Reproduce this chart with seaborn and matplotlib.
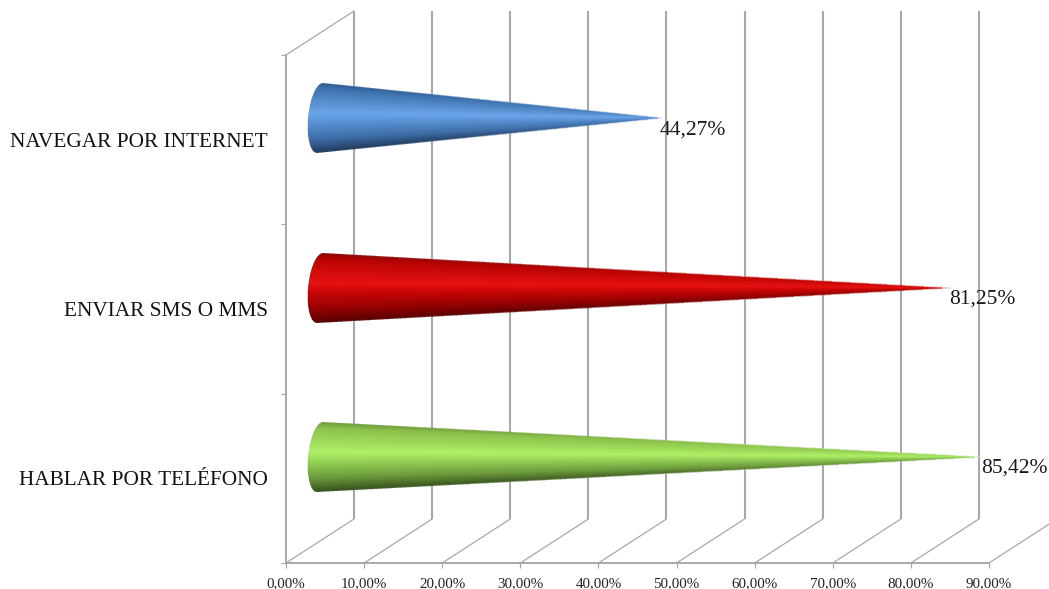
import numpy as np
import pandas as pd
import matplotlib
matplotlib.use("Agg")
import matplotlib.pyplot as plt
from matplotlib.colors import LinearSegmentedColormap
import seaborn as sns

# Survey results
categories = ["NAVEGAR POR INTERNET", "ENVIAR SMS O MMS", "HABLAR POR TELÉFONO"]
values = [44.27, 81.25, 85.42]
x_ticks = [0, 10, 20, 30, 40, 50, 60, 70, 80, 90]

# Shading from the upper edge of each cone to the lower one
shades = {
    "NAVEGAR POR INTERNET": ["#2d5b8f", "#3f74b0", "#6ba6ea", "#5a93d6", "#3f6ea8", "#1f3a5c"],
    "ENVIAR SMS O MMS": ["#8a0606", "#b80303", "#e81212", "#cc0606", "#960202", "#560000"],
    "HABLAR POR TELÉFONO": ["#6f9a3a", "#8cc04c", "#aef066", "#98d658", "#6c9a3c", "#36501c"],
}
shade_stops = [0.0, 0.08, 0.43, 0.55, 0.8, 1.0]

W, H, DPI = 1049, 589, 100
LEFT, RIGHT, TOP, BOTTOM = 286, 989, 55, 563
GRID = "#a8a8a8"
OVERSAMPLE = 4

sns.set_theme(style="white")
plt.rcParams["font.family"] = ["Liberation Serif", "DejaVu Serif"]

fig = plt.figure(figsize=(W / DPI, H / DPI), dpi=DPI, facecolor="white")
rect = [LEFT / W, 1 - BOTTOM / H, (RIGHT - LEFT) / W, (BOTTOM - TOP) / H]
ax = fig.add_axes(rect)

frame = pd.DataFrame({"actividad": categories, "porcentaje": values})
sns.barplot(data=frame, x="porcentaje", y="actividad", hue="actividad",
            palette=[shades[c][2] for c in categories], legend=False,
            width=0.41, ax=ax)
ax.set_xlim(0, 90)
ax.set_ylim(2.5, -0.5)

# A numeric layer over the categorical axes holds the oblique box and the cones
box = fig.add_axes(rect)
box.axis("off")

# Sizes of one pixel in data units, used for the oblique depth of the box
px_x = 90 / (RIGHT - LEFT)
px_y = 3 / (BOTTOM - TOP)
depth_x, depth_y = 68 * px_x, 44 * px_y
cone_x, cone_y = 32 * px_x, 21 * px_y


def base_curve(T):
    """Left rim of the cone for a position T across it (-1 upper, +1 lower)."""
    return (-12 * np.sqrt(np.clip(1 - T ** 2, 0, 1)) + 2 - 3 * T) * px_x + cone_x


def cone_image(value, yc, radius, cmap):
    """Shaded, antialiased RGBA raster of a cone and its data extent."""
    tip = value + cone_x
    x0, x1 = cone_x - 16 * px_x, tip + 2 * px_x
    y0, y1 = yc - radius - 2 * px_y, yc + radius + 2 * px_y
    nx = int(round((x1 - x0) / px_x))
    ny = int(round((y1 - y0) / px_y))
    xs = x0 + (np.arange(nx * OVERSAMPLE) + 0.5) / (nx * OVERSAMPLE) * (x1 - x0)
    ys = y0 + (np.arange(ny * OVERSAMPLE) + 0.5) / (ny * OVERSAMPLE) * (y1 - y0)
    X, Y = np.meshgrid(xs, ys)

    top_x, bot_x = base_curve(np.array(-1.0)), base_curve(np.array(1.0))
    frac_top = np.clip((tip - X) / (tip - top_x), 1e-4, 1)
    frac_bot = np.clip((tip - X) / (tip - bot_x), 1e-4, 1)
    upper = yc - radius * frac_top
    lower = yc + radius * frac_bot
    T = 2 * (Y - upper) / (lower - upper) - 1
    inside = (np.abs(T) <= 1) & (X <= tip) & (X >= base_curve(T))

    along = np.clip((X - cone_x) / (tip - cone_x), 0, 1)
    # The shading flattens towards the point, where the dark edges nearly meet
    C = 0.43 + ((np.clip(T, -1, 1) + 1) / 2 - 0.43) * (1 - 0.45 * along ** 2)
    rgba = cmap(C)
    rgba[..., :3] *= inside[..., None]
    rgba[..., 3] = inside

    # Average the oversampled cells down to one cell per output pixel
    binned = rgba.reshape(ny, OVERSAMPLE, nx, OVERSAMPLE, 4).mean(axis=(1, 3))
    alpha = binned[..., 3:]
    binned[..., :3] = np.divide(binned[..., :3], alpha, out=np.ones_like(binned[..., :3]),
                                where=alpha > 0)
    return binned, (x0, x1, y1, y0)


# Back wall and floor of the box
for v in x_ticks:
    box.plot([v, v + depth_x], [2.5, 2.5 - depth_y], color=GRID, lw=0.9,
             clip_on=False, zorder=1)
    if v < 90:
        box.plot([v + depth_x] * 2, [2.5 - depth_y, -0.5 - depth_y], color=GRID,
                 lw=1.5, clip_on=False, zorder=1, solid_capstyle="butt")
box.plot([0, depth_x], [-0.5, -0.5 - depth_y], color=GRID, lw=0.9,
         clip_on=False, zorder=1)

# Each cone is built on the bar that seaborn laid out for its category
bars = sorted(ax.patches, key=lambda p: p.get_y())
for bar, name in zip(bars, categories):
    bar.set_visible(False)
    value = bar.get_width()
    yc = bar.get_y() + bar.get_height() / 2 - cone_y
    radius = abs(bar.get_height()) / 2
    cmap = LinearSegmentedColormap.from_list(name, list(zip(shade_stops, shades[name])))
    image, extent = cone_image(value, yc, radius, cmap)
    box.imshow(image, extent=extent, aspect="auto", interpolation="bilinear",
               clip_on=False, zorder=3)
    box.annotate(f"{value:.2f}%".replace(".", ","), xy=(value + cone_x, yc), xytext=(-4, -11),
                 textcoords="offset pixels", ha="left", va="center", fontsize=15.5,
                 color="#1a1a1a", zorder=5, annotation_clip=False)
box.set_xlim(0, 90)
box.set_ylim(2.5, -0.5)

# Axes, ticks and labels
for side in ("top", "right"):
    ax.spines[side].set_visible(False)
for side in ("left", "bottom"):
    ax.spines[side].set_color(GRID)
    ax.spines[side].set_linewidth(1.4)

ax.set_xticks(x_ticks)
ax.set_xticklabels([f"{v},00%" for v in x_ticks], fontsize=10.8, color="#222222")
ax.set_yticks(range(len(categories)))
ax.set_yticklabels(categories, fontsize=15.3, color="#111111")
ax.set_yticks([-0.5, 0.5, 1.5, 2.5], minor=True)
ax.set_xlabel("")
ax.set_ylabel("")
ax.tick_params(axis="x", length=3.6, width=0.9, color=GRID, pad=6.5, bottom=True)
ax.tick_params(axis="y", which="major", length=0, pad=13)
ax.tick_params(axis="y", which="minor", length=3.6, width=0.9, color=GRID, left=True)

fig.savefig("out.png", dpi=DPI)
